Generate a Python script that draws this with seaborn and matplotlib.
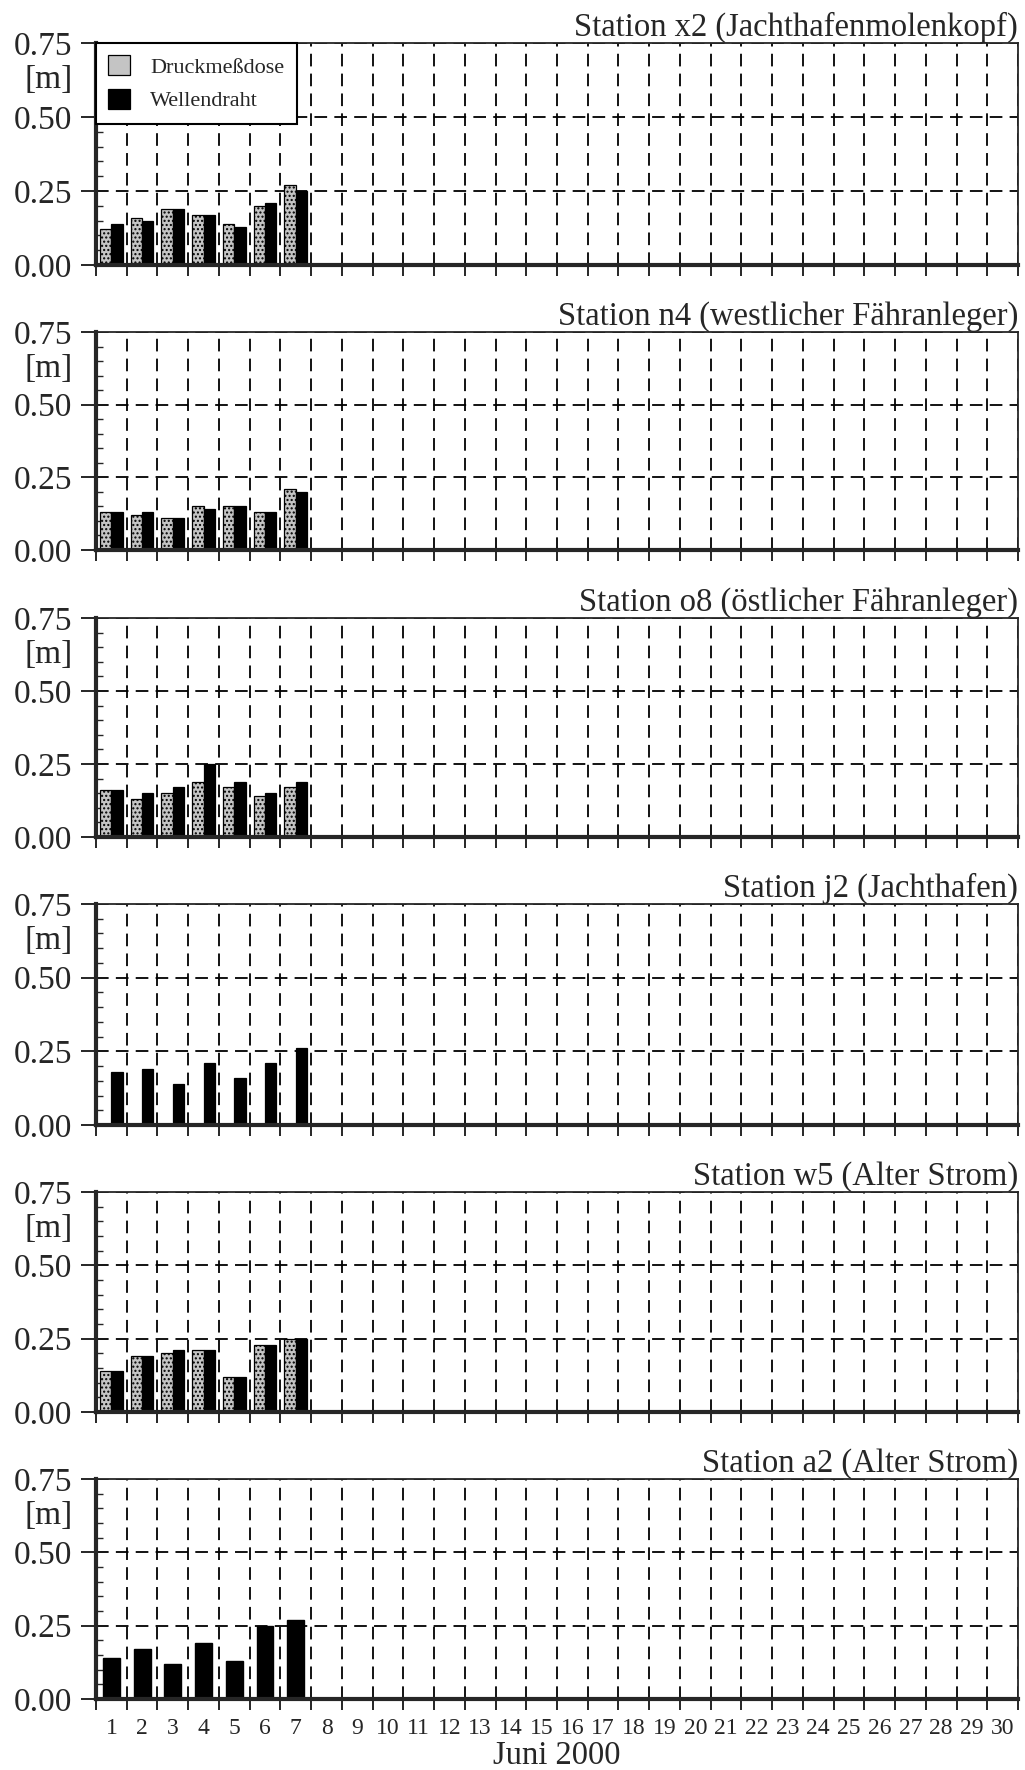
import numpy as np
import pandas as pd
import matplotlib
matplotlib.use("Agg")
import matplotlib.pyplot as plt
import seaborn as sns

# Signifikante Wellenhoehe [m], Juni 2000 (nur Tage 1-7 gemessen)
days = list(range(1, 31))
measured_days = [1, 2, 3, 4, 5, 6, 7]

x2_druck = [0.12, 0.16, 0.19, 0.17, 0.14, 0.20, 0.27]
x2_welle = [0.14, 0.15, 0.19, 0.17, 0.13, 0.21, 0.25]

n4_druck = [0.13, 0.12, 0.11, 0.15, 0.15, 0.13, 0.21]
n4_welle = [0.13, 0.13, 0.11, 0.14, 0.15, 0.13, 0.20]

o8_druck = [0.16, 0.13, 0.15, 0.19, 0.17, 0.14, 0.17]
o8_welle = [0.16, 0.15, 0.17, 0.25, 0.19, 0.15, 0.19]

j2_welle = [0.18, 0.19, 0.14, 0.21, 0.16, 0.21, 0.26]

w5_druck = [0.14, 0.19, 0.20, 0.21, 0.12, 0.23, 0.25]
w5_welle = [0.14, 0.19, 0.21, 0.21, 0.12, 0.23, 0.25]

a2_welle = [0.14, 0.17, 0.12, 0.19, 0.13, 0.25, 0.27]

titles = ["Station x2 (Jachthafenmolenkopf)",
          "Station n4 (westlicher Fähranleger)",
          "Station o8 (östlicher Fähranleger)",
          "Station j2 (Jachthafen)",
          "Station w5 (Alter Strom)",
          "Station a2 (Alter Strom)"]
series_names = ["Druckmeßdose", "Wellendraht"]
yticks = [0.0, 0.25, 0.50, 0.75]
yticklabels = ["0.00", "0.25", "0.50", "0.75"]


def long_frame(druck, welle):
    rows = []
    if druck is not None:
        rows += [(d, series_names[0], v) for d, v in zip(measured_days, druck)]
    rows += [(d, series_names[1], v) for d, v in zip(measured_days, welle)]
    return pd.DataFrame(rows, columns=["Tag", "Messung", "Hs"])


stations = [(x2_druck, x2_welle), (n4_druck, n4_welle), (o8_druck, o8_welle),
            (None, j2_welle), (w5_druck, w5_welle), (None, a2_welle)]

sns.set_style("ticks")
plt.rcParams["font.family"] = ["Liberation Serif", "DejaVu Serif"]
plt.rcParams["hatch.color"] = "#555555"

palette = {"Druckmeßdose": "#c4c4c4", "Wellendraht": "black"}

fig = plt.figure(figsize=(10.25, 17.70), dpi=100)
W, H = 1025, 1770
tops = [43, 332, 618, 904, 1192, 1479]
bottoms = [265, 550, 837, 1125, 1412, 1699]
left, right = 96, 1018

for i, (druck, welle) in enumerate(stations):
    ax = fig.add_axes([left / W, 1 - bottoms[i] / H, (right - left) / W,
                       (bottoms[i] - tops[i]) / H])
    df = long_frame(druck, welle)
    if i == 5:
        # nur Wellendraht, mittig
        sns.barplot(data=df, x="Tag", y="Hs", order=days, color="black",
                    width=0.55, edgecolor="black", errorbar=None, ax=ax)
    else:
        sns.barplot(data=df, x="Tag", y="Hs", hue="Messung", order=days,
                    hue_order=series_names, palette=palette, width=0.74,
                    dodge=True, edgecolor="black", linewidth=0.9,
                    errorbar=None, legend=(i == 0), ax=ax)
        if druck is not None:
            for patch in ax.containers[0]:
                patch.set_hatch("....")

    ax.set_xlim(-0.5, 29.5)
    ax.set_ylim(0, 0.75)
    ax.set_axisbelow(True)

    # y-Achse
    ax.set_yticks(yticks)
    ax.set_yticklabels(yticklabels, fontsize=24)
    ax.set_yticks(np.arange(0.05, 0.75, 0.05), minor=True)
    ax.tick_params(axis="y", which="major", direction="out", length=11,
                   width=1.4, pad=6)
    ax.tick_params(axis="y", which="minor", direction="in", length=5, width=1)
    ax.text(-0.025, 0.625, "[m]", transform=ax.get_yaxis_transform(),
            ha="right", va="center", fontsize=24)

    # x-Achse: Beschriftung in Tagesmitte, Striche an Tagesgrenzen
    ax.set_xticks(np.arange(-0.5, 30, 1.0), minor=True)
    ax.tick_params(axis="x", which="major", length=0, labelsize=17, pad=14)
    ax.tick_params(axis="x", which="minor", direction="out", length=8, width=1.4)
    if i < 5:
        ax.set_xticklabels([])
        ax.set_xlabel("")
    else:
        ax.set_xticklabels([str(d) for d in days])
        ax.set_xlabel("Juni 2000", fontsize=23.5, labelpad=1)
    ax.set_ylabel("")

    ax.grid(True, axis="y", which="major", color="black", linestyle=(0, (7, 4)),
            linewidth=1.3)
    ax.grid(True, axis="x", which="minor", color="black", linestyle=(0, (7, 4)),
            linewidth=1.3)

    for side in ["left", "bottom"]:
        ax.spines[side].set_linewidth(3)
    for side in ["top", "right"]:
        ax.spines[side].set_linewidth(1.3)
        ax.spines[side].set_visible(True)

    ax.set_title(titles[i], loc="right", fontsize=23.5, pad=4)

    if i == 0:
        sns.move_legend(ax, "upper left", title=None, frameon=True,
                        fontsize=16, borderaxespad=0, fancybox=False,
                        framealpha=1, edgecolor="black", handlelength=1.0,
                        handleheight=1.0, handletextpad=0.9, labelspacing=0.5,
                        borderpad=0.55)
        leg = ax.get_legend()
        leg.get_frame().set_linewidth(1.5)
        leg.set_zorder(5)

fig.savefig("out.png", dpi=100)
